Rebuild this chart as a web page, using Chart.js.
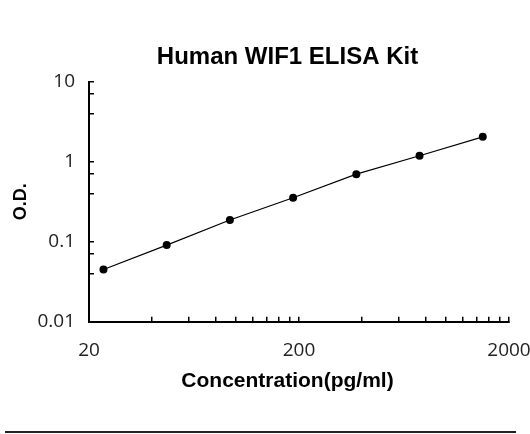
<!DOCTYPE html>
<html>
<head>
<meta charset="utf-8">
<script src="https://cdn.jsdelivr.net/npm/chart.js@4"></script>
<style>
  body { margin: 0; background: #fff; }
  .wrap { position: relative; width: 530px; height: 434px; }
  .rule { position: absolute; left: 5px; top: 431px; width: 511px; height: 2px; background: #222; }
</style>
</head>
<body>
<div class="wrap">
  <canvas id="grafico" width="530" height="434"></canvas>
  <div class="rule"></div>
</div>
<script>
// concentration standards (pg/ml) and measured O.D.
const concentrations = [23.44, 46.88, 93.75, 187.5, 375, 750, 1500];
const odValues = [0.045, 0.091, 0.187, 0.355, 0.70, 1.19, 2.05];

// tick marks and the labels that are shown
const xTicks = [20, 40, 60, 80, 100, 120, 140, 160, 180, 200, 400, 600, 800, 1000, 1200, 1400, 1600, 1800, 2000];
const xTickLabels = ['20', '200', '2000'];
const yTicks = [0.01, 0.02, 0.03, 0.04, 0.05, 0.06, 0.07, 0.08, 0.09,
                0.1, 0.2, 0.3, 0.4, 0.5, 0.6, 0.7, 0.8, 0.9,
                1, 2, 3, 4, 5, 6, 7, 8, 9, 10];
const yTickLabels = ['0.01', '0.1', '1', '10'];

const tickFont = { family: "'Open Sans', sans-serif", size: 19 };

// the title is centred a bit left of the plot, so the y axis box is narrow
// during layout; afterwards stretch it back to the left edge so the
// tick labels and axis title are not clipped
const stretchYAxis = {
    id: 'stretchYAxis',
    afterLayout(chart) {
        const y = chart.scales.y;
        y.left = 0;
        y.width = y.right;
    }
};

const ctx = document.getElementById('grafico').getContext('2d');
const grafico = new Chart(ctx, {
    type: 'line',
    data: {
        datasets: [{
            label: 'O.D.',
            data: concentrations.map((c, i) => ({ x: c, y: odValues[i] })),
            borderColor: '#000',
            backgroundColor: '#000',
            borderWidth: 1.2,
            pointRadius: 4,
            pointBackgroundColor: '#000',
            pointBorderWidth: 0,
            tension: 0
        }]
    },
    options: {
        responsive: false,
        animation: false,
        devicePixelRatio: 1,
        layout: { padding: { left: 66, right: 21, top: 0, bottom: 0 } },
        plugins: {
            legend: { display: false },
            tooltip: { enabled: false },
            title: {
                display: true,
                text: 'Human WIF1 ELISA Kit',
                color: '#000',
                font: { family: "'Liberation Sans', Arial, sans-serif", size: 24, weight: 'bold' },
                padding: { top: 43, bottom: 10 }
            },
            subtitle: {
                display: true,
                position: 'bottom',
                text: 'Concentration(pg/ml)',
                color: '#000',
                font: { family: "'Liberation Sans', Arial, sans-serif", size: 21, weight: 'bold' },
                padding: { top: 7, bottom: 40 }
            }
        },
        scales: {
            x: {
                type: 'logarithmic',
                min: 20,
                max: 2000,
                afterBuildTicks: (s) => { s.ticks = xTicks.map(v => ({ value: v })); },
                afterFit: (s) => { s.height = 40; s.paddingLeft = 0; s.paddingRight = 0; },
                grid: { drawOnChartArea: false, color: '#000', lineWidth: 1.5, tickLength: -5 },
                border: { color: '#000', width: 2 },
                ticks: {
                    autoSkip: false,
                    maxRotation: 0,
                    padding: 22,
                    color: '#222',
                    font: tickFont,
                    callback: (v) => xTickLabels.includes(String(v)) ? String(v) : ''
                }
            },
            y: {
                type: 'logarithmic',
                min: 0.01,
                max: 10,
                afterBuildTicks: (s) => { s.ticks = yTicks.map(v => ({ value: v })); },
                afterFit: (s) => { s.width = 23; s.paddingTop = 0; s.paddingBottom = 0; },
                grid: { drawOnChartArea: false, color: '#000', lineWidth: 1.5, tickLength: -5 },
                border: { color: '#000', width: 2 },
                title: {
                    display: true,
                    text: 'O.D.',
                    color: '#000',
                    font: { family: "'Liberation Sans', Arial, sans-serif", size: 18, weight: 'bold' },
                    padding: { top: 10, bottom: 0 }
                },
                ticks: {
                    padding: 19,
                    color: '#222',
                    font: tickFont,
                    callback: (v) => yTickLabels.includes(String(v)) ? String(v) : ''
                }
            }
        }
    },
    plugins: [stretchYAxis]
});
</script>
</body>
</html>
